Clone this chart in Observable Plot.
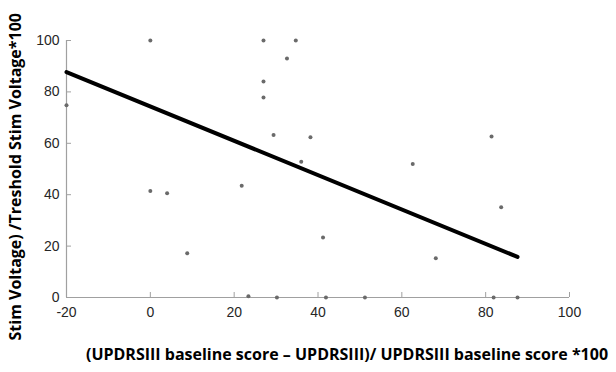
<!DOCTYPE html>
<html><head><meta charset="utf-8">
<script src="https://cdn.jsdelivr.net/npm/d3@7"></script>
<script src="https://cdn.jsdelivr.net/npm/@observablehq/plot@0.6"></script>
<style>body{margin:0;background:#fff}</style>
</head><body><div id="chart"></div>
<script>
const improvement = [-20, 0, 0, 4, 8.8, 21.8, 23.4, 27, 27, 27, 29.4, 32.6, 34.7, 36, 38.2, 41.2, 41.9, 30.2, 51.2, 62.6, 68.1, 81.4, 81.9, 83.7, 87.6];
const voltage     = [74.8, 100, 41.4, 40.6, 17.2, 43.5, 0.5, 100, 84, 77.8, 63.2, 93, 100, 52.8, 62.4, 23.3, 0, 0, 0, 51.9, 15.3, 62.6, 0, 35.1, 0];
const fitX = [-20, 87.6];
const fitY = [87.7, 15.8];
const xTicks = [-20, 0, 20, 40, 60, 80, 100];
const yTicks = [0, 20, 40, 60, 80, 100];
const xTitle = "(UPDRSIII baseline score \u2013 UPDRSIII)/ UPDRSIII baseline score *100";
const yTitle = "Stim Voltage) /Treshold Stim Voltage*100";

const points = improvement.map((x, i) => ({x, y: voltage[i]}));
const fit = fitX.map((x, i) => ({x, y: fitY[i]}));

const chart = Plot.plot({
  width: 616, height: 372,
  marginLeft: 66, marginRight: 47, marginTop: 40, marginBottom: 75,
  style: {fontFamily: "Liberation Sans, Arial, sans-serif", background: "#fff", overflow: "visible"},
  x: {domain: [-20, 100]},
  y: {domain: [0, 100]},
  marks: [
    Plot.ruleY([0], {stroke: "#a0a0a0", strokeWidth: 1.2}),
    Plot.ruleX([-20], {stroke: "#a0a0a0", strokeWidth: 1.2}),
    Plot.axisX({ticks: xTicks, tickFormat: d => String(d), tickSize: -5, tickPadding: 15, stroke: "#a0a0a0", fontSize: 14, fill: "#262626", label: null}),
    Plot.axisY({ticks: yTicks, tickFormat: d => String(d), tickSize: -5, tickPadding: 12, stroke: "#a0a0a0", fontSize: 14, fill: "#262626", label: null}),
    Plot.dot(points, {x: "x", y: "y", r: 2, fill: "#6a6a6a", stroke: null}),
    Plot.line(fit, {x: "x", y: "y", stroke: "#000", strokeWidth: 4}),
    Plot.text([xTitle], {frameAnchor: "bottom", dx: 29, dy: 62, fontWeight: "bold", fontSize: 16, fontFamily: "Open Sans", fill: "#000"}),
    Plot.text([yTitle], {frameAnchor: "bottom-left", dx: -46, dy: 43, rotate: -90, textAnchor: "start", fontWeight: "bold", fontSize: 16, fontFamily: "Open Sans", fill: "#000"})
  ]
});
document.getElementById("chart").appendChild(chart);
</script></body></html>
